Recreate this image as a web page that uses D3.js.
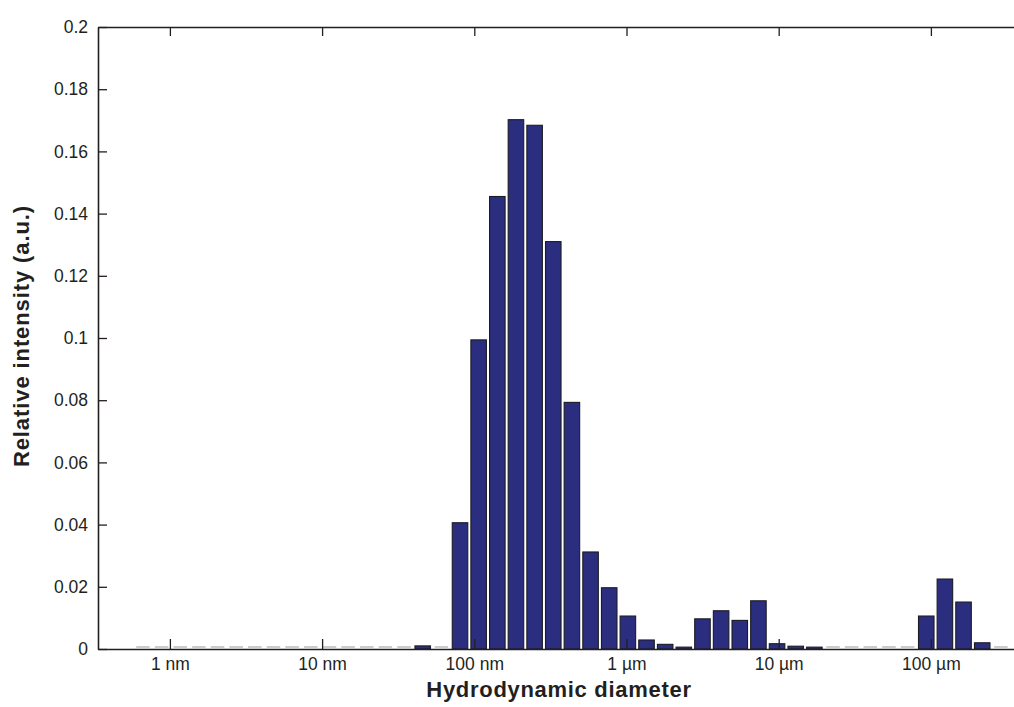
<!DOCTYPE html>
<html>
<head>
<meta charset="utf-8">
<script src="https://cdn.jsdelivr.net/npm/d3@7"></script>
<style>
  html, body { margin: 0; padding: 0; background: #fff; }
  svg { display: block; font-family: "Liberation Sans", Arial, Helvetica, sans-serif; }
</style>
</head>
<body>
<svg id="chart" width="1014" height="707"></svg>
<script>
// Bin centre diameters (nm)
const diameters = [
  0.665, 0.882, 1.169, 1.551, 2.056, 2.727, 3.615, 4.794, 6.357, 8.429,
  11.18, 14.82, 19.65, 26.06, 34.56, 45.83, 60.77, 80.58, 106.8, 141.7,
  187.8, 249.1, 330.3, 437.9, 580.7, 770.0, 1021, 1354, 1795, 2380,
  3156, 4185, 5550, 7359, 9757, 12940, 17160, 22750, 30170, 39990,
  53030, 70320, 93240, 123600, 163900, 217400, 288300
];
// Relative intensity (a.u.) per bin
const intensity = [
  0, 0, 0, 0, 0, 0, 0, 0, 0, 0,
  0, 0, 0, 0, 0, 0.001, 0, 0.0406, 0.0994, 0.1455,
  0.1702, 0.1684, 0.1310, 0.0793, 0.0312, 0.0197, 0.0106, 0.0029, 0.0015, 0.0006,
  0.0097, 0.0123, 0.0092, 0.0155, 0.0017, 0.0009, 0.0006, 0, 0, 0,
  0, 0, 0.0106, 0.0225, 0.0151, 0.0020, 0
];
const yTicks = [0, 0.02, 0.04, 0.06, 0.08, 0.1, 0.12, 0.14, 0.16, 0.18, 0.2];
const yTickLabels = ["0", "0.02", "0.04", "0.06", "0.08", "0.1", "0.12", "0.14", "0.16", "0.18", "0.2"];
const xTicks = [1, 10, 100, 1000, 10000, 100000];
const xTickLabels = ["1 nm", "10 nm", "100 nm", "1 µm", "10 µm", "100 µm"];

(function () {
const svg = d3.select("#chart");
const mLeft = 98, mRight = 1014, mTop = 27, mBottom = 649;
const ink = "#231f20";

const x = d3.scaleLog().domain([0.337, 351600]).range([mLeft, mRight]);
const y = d3.scaleLinear().domain([0, 0.2]).range([mBottom, mTop]);
const halfDec = Math.pow(10, 0.051);

const data = diameters.map((d, i) => ({ d, v: intensity[i] }));

// bars
svg.append("g").selectAll("rect")
  .data(data.filter(p => p.v > 0))
  .join("rect")
  .attr("x", p => x(p.d / halfDec))
  .attr("width", p => x(p.d * halfDec) - x(p.d / halfDec))
  .attr("y", p => y(p.v))
  .attr("height", p => y(0) - y(p.v))
  .attr("fill", "#2b2d7e")
  .attr("stroke", "#1c1c24")
  .attr("stroke-width", 1.1);

// zero-height bins
svg.append("g").selectAll("line")
  .data(data.filter(p => p.v === 0))
  .join("line")
  .attr("x1", p => x(p.d / halfDec) + 1)
  .attr("x2", p => x(p.d * halfDec) - 1)
  .attr("y1", y(0) - 2)
  .attr("y2", y(0) - 2)
  .attr("stroke", "#b0b0b0")
  .attr("stroke-width", 1.3);

function styleAxis(g) {
  g.select(".domain").attr("stroke", ink).attr("stroke-width", 1.6);
  g.selectAll(".tick line").attr("stroke", ink).attr("stroke-width", 1.3);
  g.selectAll(".tick text").attr("fill", ink)
    .style("font-size", "17.5px").style("font-family", "'Liberation Sans', Arial, sans-serif");
}

// left axis
svg.append("g")
  .attr("transform", `translate(${mLeft},0)`)
  .call(d3.axisLeft(y).tickValues(yTicks).tickFormat((d, i) => yTickLabels[i])
    .tickSize(-9).tickSizeOuter(0).tickPadding(10))
  .call(styleAxis);

// bottom axis
svg.append("g")
  .attr("transform", `translate(0,${mBottom})`)
  .call(d3.axisBottom(x).tickValues(xTicks).tickFormat((d, i) => xTickLabels[i])
    .tickSize(-10).tickSizeOuter(0).tickPadding(8.5))
  .call(styleAxis);

// top axis
svg.append("g")
  .attr("transform", `translate(0,${mTop})`)
  .call(d3.axisTop(x).tickValues(xTicks).tickFormat("")
    .tickSize(-9).tickSizeOuter(0))
  .call(styleAxis);

// axis titles
svg.append("text")
  .attr("x", 559).attr("y", 697)
  .attr("text-anchor", "middle")
  .attr("fill", ink)
  .style("font-weight", "bold").style("font-size", "22px").style("letter-spacing", "0.7px")
  .text("Hydrodynamic diameter");

svg.append("text")
  .attr("transform", "translate(29,336) rotate(-90)")
  .attr("text-anchor", "middle")
  .attr("fill", ink)
  .style("font-weight", "bold").style("font-size", "22px").style("letter-spacing", "0.9px")
  .text("Relative intensity (a.u.)");
})();
</script>
</body>
</html>
